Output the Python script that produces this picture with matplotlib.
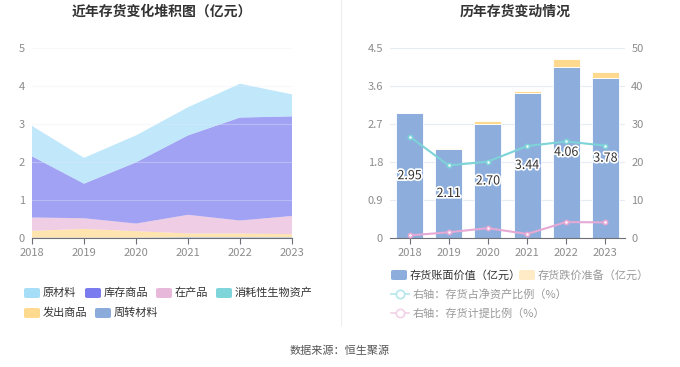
import matplotlib
matplotlib.use('Agg')
import matplotlib.pyplot as plt
import matplotlib.patheffects as pe
from matplotlib.patches import FancyBboxPatch
from matplotlib.lines import Line2D
import numpy as np

plt.rcParams['font.family'] = ['Noto Sans CJK SC', 'DejaVu Sans']

# ─── Data ────────────────────────────────────────────────────────────────────
years = ['2018', '2019', '2020', '2021', '2022', '2023']

# stacked components (亿元), bottom -> top
turnover_mat = [0.01, 0.01, 0.01, 0.02, 0.02, 0.02]   # 周转材料
shipped      = [0.18, 0.23, 0.17, 0.10, 0.10, 0.08]   # 发出商品
bio_assets   = [0.00, 0.00, 0.00, 0.00, 0.00, 0.00]   # 消耗性生物资产
wip          = [0.35, 0.28, 0.20, 0.49, 0.34, 0.48]   # 在产品
goods        = [1.61, 0.91, 1.61, 2.09, 2.71, 2.62]   # 库存商品
raw_mat      = [0.80, 0.68, 0.71, 0.74, 0.89, 0.58]   # 原材料

book_value = [2.95, 2.11, 2.70, 3.44, 4.06, 3.78]     # 存货账面价值
provision  = [0.02, 0.03, 0.07, 0.04, 0.18, 0.16]     # 存货跌价准备
net_ratio  = [26.7, 19.1, 20.1, 24.2, 25.4, 24.3]     # 存货占净资产比例 %
prov_ratio = [0.7, 1.5, 2.6, 1.05, 4.2, 4.1]          # 存货计提比例 %

left_yticks  = [0, 1, 2, 3, 4, 5]
right_yticks = [0, 0.9, 1.8, 2.7, 3.6, 4.5]
ratio_yticks = [0, 10, 20, 30, 40, 50]

# ─── Style ───────────────────────────────────────────────────────────────────
C_RAW   = '#A6DEF8'
C_GOODS = '#7B7BF0'
C_WIP   = '#E8B8DA'
C_BIO   = '#7FD6DA'
C_SHIP  = '#FFD98E'
C_TURN  = '#8BABDB'
C_BAR   = '#8DAEDC'
C_PROV  = '#FFD98E'
C_LINE1 = '#7DD3D8'
C_LINE2 = '#E6A8D4'
GRID    = '#E6ECF6'
TICK    = '#8C8C8C'

W, H = 680, 367
fig = plt.figure(figsize=(W / 100, H / 100), dpi=100)
fig.patch.set_facecolor('white')


def fx(x):
    return x / W


def fy(y):
    return 1 - y / H


def style_axes(ax, below=True):
    for sp in ['top', 'right', 'left']:
        ax.spines[sp].set_visible(False)
    ax.spines['bottom'].set_color('#6E7079')
    ax.tick_params(axis='y', length=0, colors=TICK, labelsize=8, pad=5)
    ax.tick_params(axis='x', length=4, color='#6E7079', colors=TICK, labelsize=8)
    ax.grid(axis='y', color=GRID, linewidth=0.8)
    ax.set_axisbelow(below)


# ─── Left: stacked area ──────────────────────────────────────────────────────
ax1 = fig.add_axes([fx(32), fy(238), fx(292) - fx(32), fy(48) - fy(238)])
x = np.arange(len(years))
ax1.stackplot(x, turnover_mat, shipped, bio_assets, wip, goods, raw_mat,
              colors=[C_TURN, C_SHIP, C_BIO, C_WIP, C_GOODS, C_RAW],
              alpha=0.7, linewidth=0)
ax1.set_xlim(0, len(years) - 1)
ax1.set_ylim(0, 5)
ax1.set_yticks(left_yticks)
ax1.set_xticks(x)
ax1.set_xticklabels(years)
style_axes(ax1, below=False)
for gl in ax1.get_ygridlines():
    gl.set_alpha(0.35)
fig.text(fx(162), fy(12), '近年存货变化堆积图（亿元）', ha='center', va='center',
         fontsize=10, fontweight='bold', color='#333333')

# ─── Right: bars + ratio lines ───────────────────────────────────────────────
ax2 = fig.add_axes([fx(390), fy(238), fx(625) - fx(390), fy(48) - fy(238)])
ax2.bar(x, book_value, width=0.69, color=C_BAR, edgecolor='white', linewidth=0.6)
ax2.bar(x, provision, width=0.69, bottom=book_value, color=C_PROV,
        edgecolor='white', linewidth=0.6)
for xi, v in zip(x, book_value):
    ax2.text(xi, v / 2, f'{v:.2f}', ha='center', va='center', fontsize=9,
             color='#333333',
             path_effects=[pe.withStroke(linewidth=2.5, foreground='white')],
             zorder=6)
ax2.set_xlim(-0.5, len(years) - 0.5)
ax2.set_ylim(0, 4.5)
ax2.set_yticks(right_yticks)
ax2.set_yticklabels([f'{t:g}' for t in right_yticks])
ax2.set_xticks(x)
ax2.set_xticklabels(years)
style_axes(ax2)

ax3 = ax2.twinx()
ax3.plot(x, net_ratio, color=C_LINE1, linewidth=1.5, marker='o', markersize=3,
         markerfacecolor='white', markeredgecolor=C_LINE1, markeredgewidth=1.2,
         zorder=5)
ax3.plot(x, prov_ratio, color=C_LINE2, linewidth=1.5, marker='o', markersize=3,
         markerfacecolor='white', markeredgecolor=C_LINE2, markeredgewidth=1.2,
         zorder=5)
ax3.set_ylim(0, 50)
ax3.set_yticks(ratio_yticks)
for sp in ax3.spines.values():
    sp.set_visible(False)
ax3.tick_params(axis='y', length=0, colors=TICK, labelsize=8, pad=4.5)
fig.text(fx(515), fy(12), '历年存货变动情况', ha='center', va='center',
         fontsize=10, fontweight='bold', color='#333333')

# divider
fig.add_artist(Line2D([fx(341), fx(341)], [fy(0), fy(325)], color='#EEEEEE',
                      linewidth=0.8, transform=fig.transFigure))


# ─── Legends ─────────────────────────────────────────────────────────────────
def patch_item(x0, yc, color, label, text_color='#333333'):
    w, h = 16, 10
    fig.patches.append(FancyBboxPatch(
        (fx(x0), fy(yc + h / 2)), fx(w), h / H,
        boxstyle='round,pad=0,rounding_size=0.004', facecolor=color,
        edgecolor='none', transform=fig.transFigure, figure=fig))
    fig.text(fx(x0 + w + 3), fy(yc), label, ha='left', va='center',
             fontsize=8, color=text_color)


def line_item(x0, yc, color, label, text_color='#999999'):
    fig.add_artist(Line2D([fx(x0), fx(x0 + 18)], [fy(yc), fy(yc)],
                          color=color, linewidth=1.2, transform=fig.transFigure))
    fig.add_artist(Line2D([fx(x0 + 9)], [fy(yc)], marker='o', markersize=6,
                          markerfacecolor='white', markeredgecolor=color,
                          markeredgewidth=1.2, transform=fig.transFigure))
    fig.text(fx(x0 + 22), fy(yc), label, ha='left', va='center',
             fontsize=8, color=text_color)


patch_item(24, 293, C_RAW, '原材料')
patch_item(85, 293, C_GOODS, '库存商品')
patch_item(156, 293, C_WIP, '在产品')
patch_item(216, 293, C_BIO, '消耗性生物资产')
patch_item(24, 313, C_SHIP, '发出商品')
patch_item(95, 313, C_TURN, '周转材料')

patch_item(391, 275, C_BAR, '存货账面价值（亿元）')
patch_item(519, 275, '#FFEBC6', '存货跌价准备（亿元）', text_color='#999999')
line_item(391, 294, '#B5E6E9', '右轴：存货占净资产比例（%）')
line_item(391, 313, '#F2D2E8', '右轴：存货计提比例（%）')

fig.text(fx(340), fy(351), '数据来源：恒生聚源', ha='center', va='center',
         fontsize=8, color='#555555')

plt.savefig('out.png', dpi=100)
